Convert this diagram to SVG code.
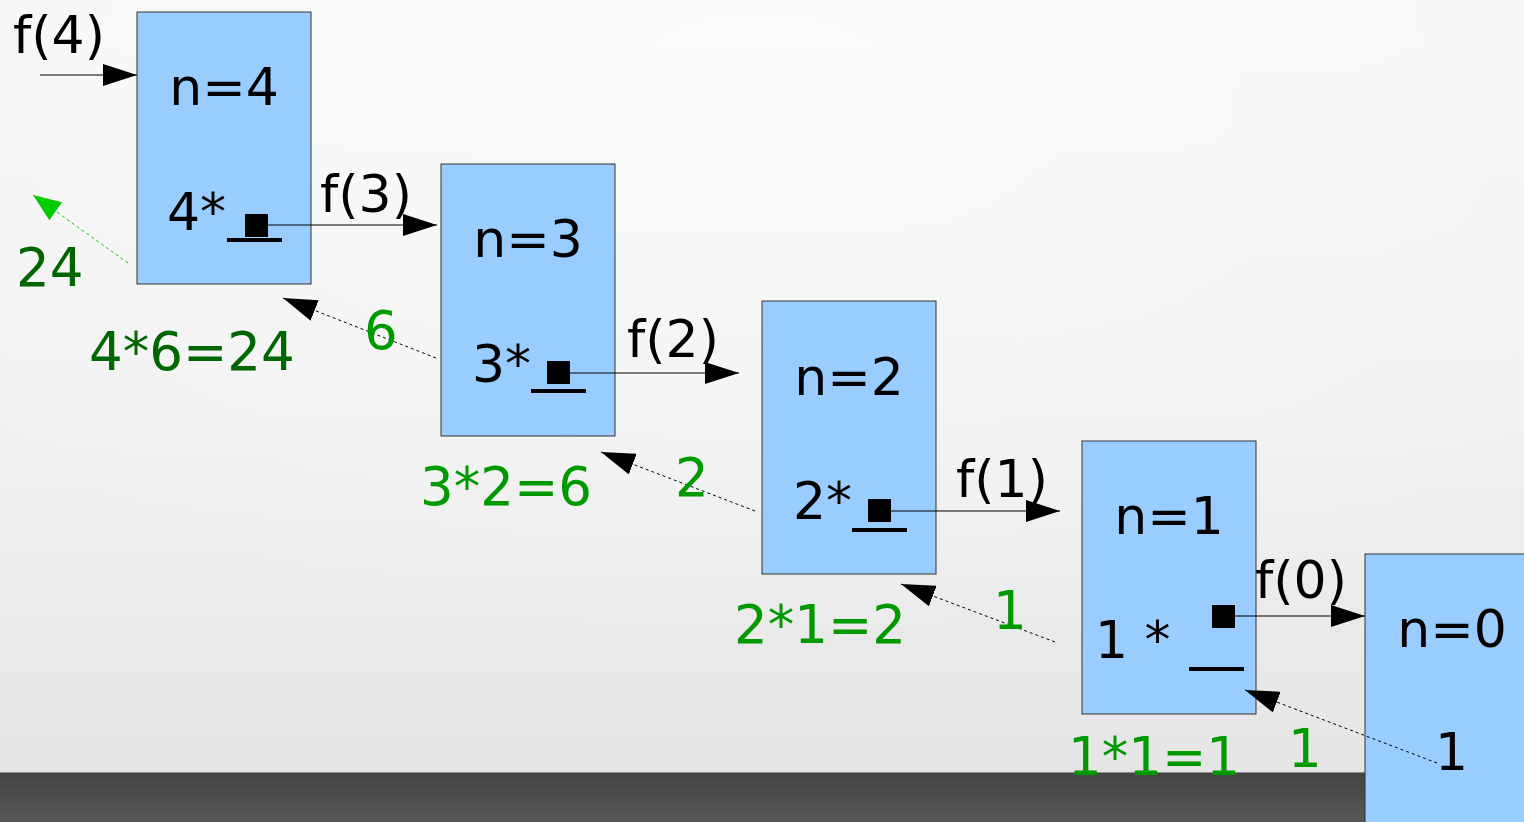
<svg xmlns="http://www.w3.org/2000/svg" width="1524" height="822" viewBox="0 0 1524 822">
<defs>
<linearGradient id="bg" x1="0" y1="0" x2="0" y2="1">
<stop offset="0" stop-color="#f7f7f7"/>
<stop offset="0.5" stop-color="#f2f2f2"/>
<stop offset="1" stop-color="#e3e3e3"/>
</linearGradient>
<radialGradient id="glow" cx="0.5" cy="0.1" r="0.7">
<stop offset="0" stop-color="#ffffff" stop-opacity="0.5"/>
<stop offset="1" stop-color="#ffffff" stop-opacity="0"/>
</radialGradient>
<linearGradient id="band" x1="0" y1="0" x2="0" y2="1">
<stop offset="0" stop-color="#444444"/>
<stop offset="1" stop-color="#575757"/>
</linearGradient>
<marker id="ah" markerUnits="userSpaceOnUse" markerWidth="34" markerHeight="22" refX="34" refY="11" orient="auto" viewBox="0 0 34 22">
<path d="M0,0 L34,11 L0,22 z" fill="#000"/>
</marker>
<marker id="ahg" markerUnits="userSpaceOnUse" markerWidth="28" markerHeight="22" refX="28" refY="11" orient="auto" viewBox="0 0 28 22">
<path d="M0,0 L28,11 L0,22 z" fill="#00cc00"/>
</marker>
<style>
.box{fill:#99ccff;stroke:#333;stroke-width:1}
.t{font-family:"DejaVu Sans",sans-serif;font-size:52px;fill:#000}
.c{text-anchor:middle}
.g{font-family:"DejaVu Sans",sans-serif;font-size:53px;fill:#009900}
.dg{font-family:"DejaVu Sans",sans-serif;font-size:53px;fill:#006600}
.call{stroke:#000;stroke-width:1;fill:none;marker-end:url(#ah)}
.ret{stroke:#000;stroke-width:1;stroke-dasharray:3 3;fill:none;marker-end:url(#ah)}
.sq{fill:#000}
.ul{stroke:#000;stroke-width:4}
</style>
</defs>
<rect x="0" y="0" width="1524" height="822" fill="url(#bg)"/>
<rect x="0" y="0" width="1524" height="822" fill="url(#glow)"/>
<rect x="0" y="772" width="1524" height="50" fill="url(#band)"/>
<line x1="0" y1="772.5" x2="1524" y2="772.5" stroke="#8a8a8a" stroke-width="1"/>

<g id="node-f4">
<rect class="box" x="137" y="12" width="174" height="272"/>
<text class="t c" x="224" y="105">n=4</text>
<text class="t" x="167" y="230">4*</text>
<rect class="sq" x="245" y="214" width="23" height="23"/>
<line class="ul" x1="227" y1="240" x2="282" y2="240"/>
</g>
<g id="node-f3">
<rect class="box" x="441" y="164" width="174" height="272"/>
<text class="t c" x="528" y="257">n=3</text>
<text class="t" x="472" y="382">3*</text>
<rect class="sq" x="547" y="361" width="23" height="23"/>
<line class="ul" x1="531" y1="391" x2="586" y2="391"/>
</g>
<g id="node-f2">
<rect class="box" x="762" y="301" width="174" height="273"/>
<text class="t c" x="849" y="395">n=2</text>
<text class="t" x="793" y="519">2*</text>
<rect class="sq" x="868" y="499" width="23" height="23"/>
<line class="ul" x1="852" y1="530" x2="907" y2="530"/>
</g>
<g id="node-f1">
<rect class="box" x="1082" y="441" width="174" height="273"/>
<text class="t c" x="1169" y="534">n=1</text>
<text class="t" x="1095" y="658">1 *</text>
<rect class="sq" x="1212" y="605" width="23" height="23"/>
<line class="ul" x1="1189" y1="669" x2="1244" y2="669"/>
</g>
<g id="node-f0">
<rect class="box" x="1365" y="554" width="180" height="290"/>
<text class="t c" x="1452" y="647">n=0</text>
<text class="t" x="1435" y="770">1</text>
</g>

<g id="connectors">
<line class="call" x1="40" y1="75" x2="137" y2="75"/>
<line class="call" x1="268" y1="225" x2="437" y2="225"/>
<line class="call" x1="570" y1="373" x2="739" y2="373"/>
<line class="call" x1="891" y1="511" x2="1060" y2="511"/>
<line class="call" x1="1235" y1="616" x2="1365" y2="616"/>
<line class="ret" x1="436" y1="358" x2="283" y2="298"/>
<line class="ret" x1="755" y1="511" x2="601" y2="452"/>
<line class="ret" x1="1055" y1="642" x2="901" y2="584"/>
<line class="ret" x1="1437" y1="763" x2="1245" y2="690"/>
<line x1="128" y1="263" x2="33" y2="195" stroke="#00cc00" stroke-width="1" stroke-dasharray="3 3" marker-end="url(#ahg)"/>
</g>

<g id="labels">
<text class="t" x="13" y="53">f(4)</text>
<text class="t" x="320" y="212">f(3)</text>
<text class="t" x="627" y="357">f(2)</text>
<text class="t" x="956" y="497">f(1)</text>
<text class="t" x="1255" y="598">f(0)</text>
<text class="dg" x="16" y="286">24</text>
<text class="dg" x="89" y="370">4*6=24</text>
<text class="g" x="364" y="349">6</text>
<text class="g" x="420" y="505">3*2=6</text>
<text class="g" x="675" y="496">2</text>
<text class="g" x="734" y="643">2*1=2</text>
<text class="g" x="993" y="629">1</text>
<text class="g" x="1068" y="775">1*1=1</text>
<text class="g" x="1288" y="767">1</text>
</g>
</svg>
